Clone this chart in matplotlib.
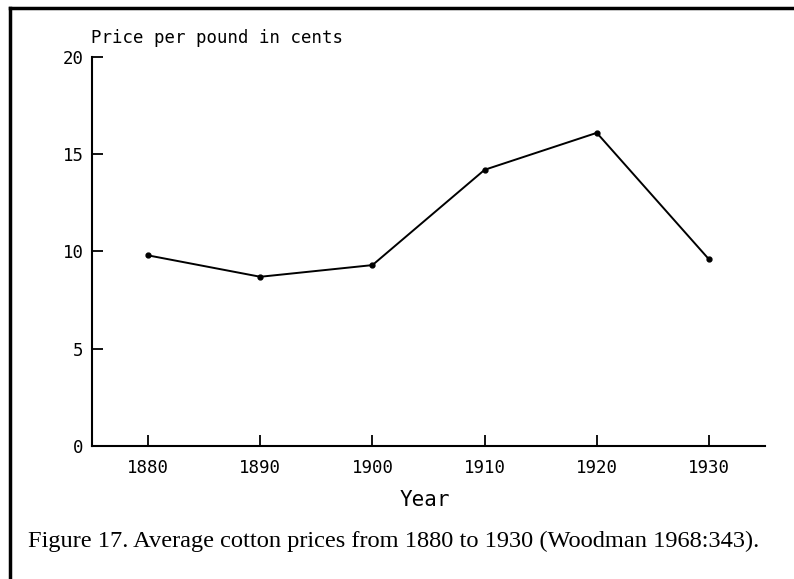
import matplotlib
matplotlib.use("Agg")
import matplotlib.pyplot as plt
from matplotlib.lines import Line2D

years = [1880, 1890, 1900, 1910, 1920, 1930]
price_cents = [9.8, 8.7, 9.3, 14.2, 16.1, 9.6]
y_ticks = [0, 5, 10, 15, 20]

def main():
    fig = plt.figure(figsize=(7.94, 5.79), dpi=100)
    ax = fig.add_axes([0.1159, 0.2297, 0.8476, 0.6719])

    ax.plot(years, price_cents, color="black", linewidth=1.4,
            marker="o", markersize=3.5)

    ax.set_xlim(1875, 1935)
    ax.set_ylim(0, 20)
    ax.set_xticks(years)
    ax.set_yticks(y_ticks)

    for side in ("top", "right"):
        ax.spines[side].set_visible(False)
    for side in ("left", "bottom"):
        ax.spines[side].set_linewidth(1.5)

    ax.tick_params(direction="in", length=8, width=1.3, labelsize=12.5,
                   pad=6)
    for lab in ax.get_xticklabels() + ax.get_yticklabels():
        lab.set_family("DejaVu Sans Mono")
    ax.tick_params(axis="x", pad=9)

    # axis titles
    fig.text(0.1146, 0.925, "Price per pound in cents", family="DejaVu Sans Mono",
             fontsize=12.5, ha="left", va="baseline")
    fig.text(0.535, 0.126, "Year", family="DejaVu Sans Mono", fontsize=15,
             ha="center", va="baseline")

    # caption
    fig.text(0.035, 0.055, "Figure 17. Average cotton prices from 1880 to 1930 (Woodman 1968:343).",
             family="Liberation Serif", fontsize=17.6, ha="left", va="baseline")

    # page border (left and top)
    fig.add_artist(Line2D([0.012, 0.012], [0.0, 0.986], color="black",
                          linewidth=2.5, transform=fig.transFigure))
    fig.add_artist(Line2D([0.012, 1.0], [0.986, 0.986], color="black",
                          linewidth=2.5, transform=fig.transFigure))

    fig.savefig("out.png", dpi=100)

if __name__ == "__main__":
    main()
